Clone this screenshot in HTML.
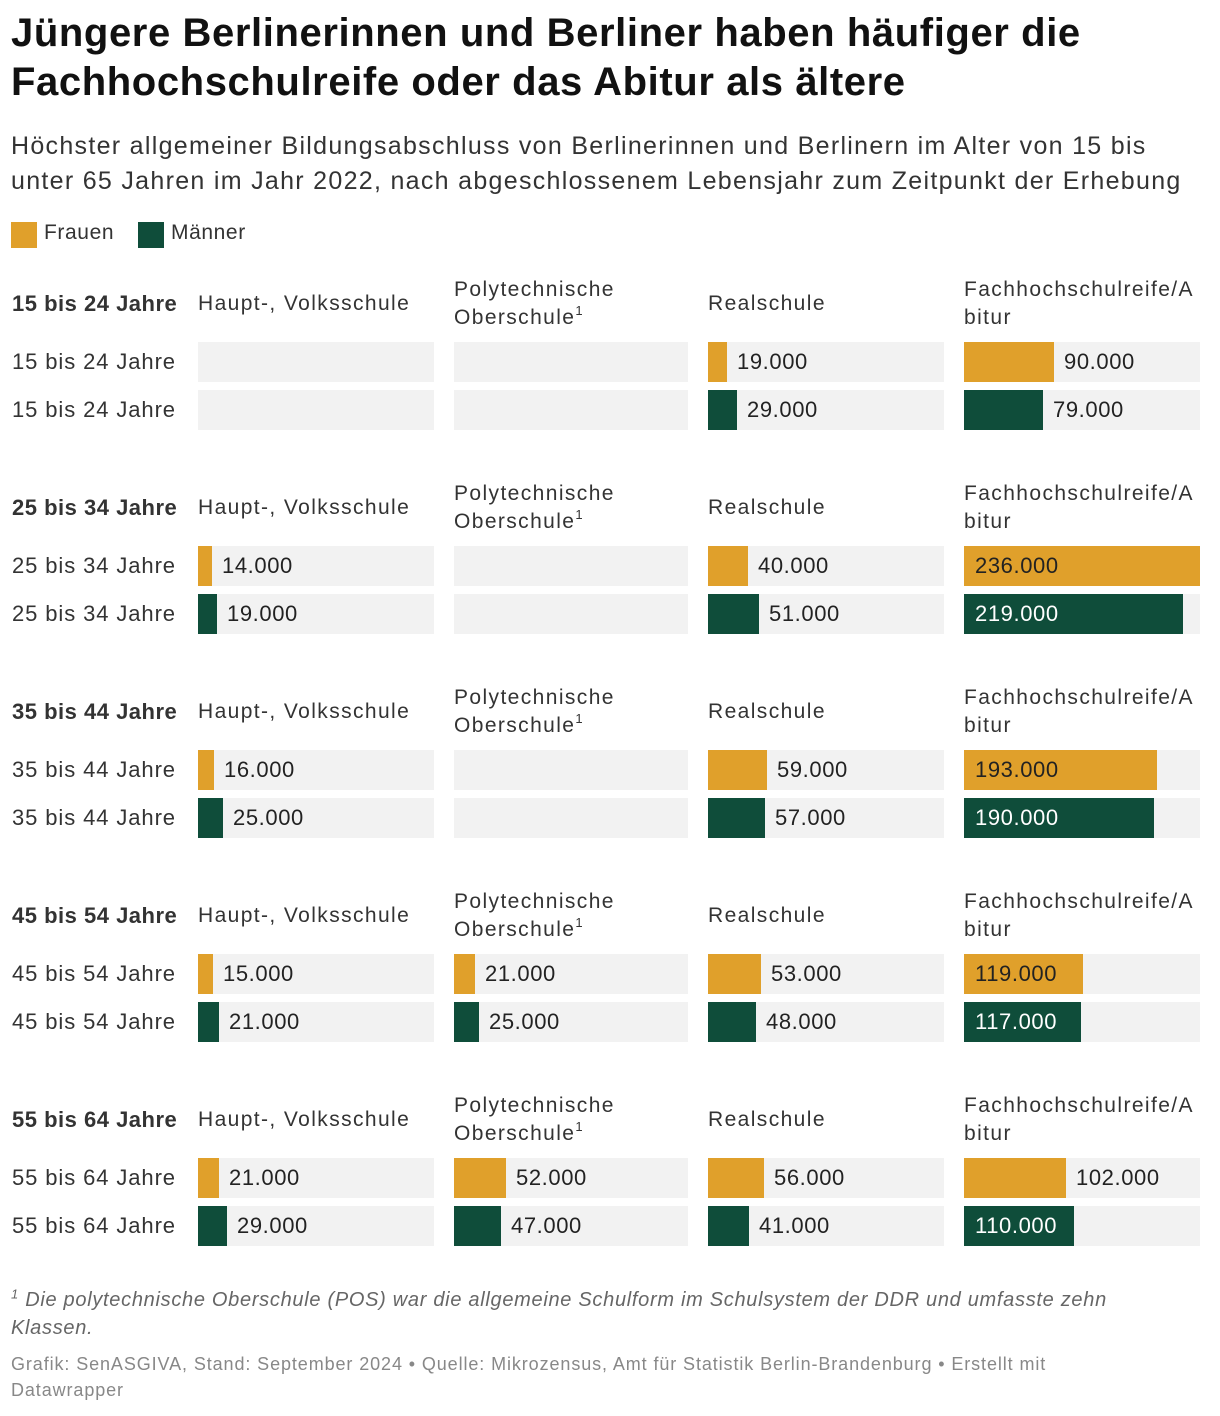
<!DOCTYPE html>
<html><head><meta charset="utf-8">
<style>
body{margin:0;background:#fff;width:1220px;height:1416px;overflow:hidden;font-family:"Liberation Sans",sans-serif;color:#222;position:relative}
.abs{position:absolute;white-space:nowrap}
h1{position:absolute;left:11px;top:9px;margin:0;font-size:40px;line-height:49px;font-weight:bold;color:#111;letter-spacing:0.6px}
.sub{position:absolute;left:11px;top:129px;font-size:25px;line-height:35px;color:#333;letter-spacing:1.3px}
.leg{font-size:21px;color:#333;letter-spacing:0.6px}
.sw{position:absolute;width:26px;height:26px}
.hd{font-size:21px;line-height:28px;color:#333;letter-spacing:1.4px}
.hd sup{font-size:13px;line-height:0;vertical-align:9px}
.rl{font-size:22px;color:#333;letter-spacing:0.9px}
.bg{position:absolute;background:#f2f2f2;height:40px}
.bar{position:absolute;height:40px}
.val{position:absolute;font-size:22px;line-height:40px;letter-spacing:0.6px}
</style></head><body>
<h1>Jüngere Berlinerinnen und Berliner haben häufiger die<br>Fachhochschulreife oder das Abitur als ältere</h1>
<div class="sub">Höchster allgemeiner Bildungsabschluss von Berlinerinnen und Berlinern im Alter von 15 bis<br>unter 65 Jahren im Jahr 2022, nach abgeschlossenem Lebensjahr zum Zeitpunkt der Erhebung</div>
<div class="sw" style="left:11px;top:222px;background:#e0a02b"></div>
<div class="abs leg" style="left:44px;top:221px">Frauen</div>
<div class="sw" style="left:138px;top:222px;background:#0f4d3a"></div>
<div class="abs leg" style="left:171px;top:221px">Männer</div>
<div id="chart"></div>
<div class="abs" style="left:11px;top:1286px;font-size:20px;line-height:28px;font-style:italic;color:#666;letter-spacing:0.7px"><sup style="font-size:13px;line-height:0">1</sup> Die polytechnische Oberschule (POS) war die allgemeine Schulform im Schulsystem der DDR und umfasste zehn<br>Klassen.</div>
<div class="abs" style="left:11px;top:1351px;font-size:18px;line-height:26px;color:#888;letter-spacing:0.9px">Grafik: SenASGIVA, Stand: September 2024 • Quelle: Mikrozensus, Amt für Statistik Berlin-Brandenburg • Erstellt mit<br>Datawrapper</div>
<script>
const ageGroups=["15 bis 24 Jahre","25 bis 34 Jahre","35 bis 44 Jahre","45 bis 54 Jahre","55 bis 64 Jahre"];
const columns=["Haupt-, Volksschule","Polytechnische<br>Oberschule<sup>1</sup>","Realschule","Fachhochschulreife/A<br>bitur"];
const frauen=[[null,null,19000,90000],[14000,null,40000,236000],[16000,null,59000,193000],[15000,21000,53000,119000],[21000,52000,56000,102000]];
const maenner=[[null,null,29000,79000],[19000,null,51000,219000],[25000,null,57000,190000],[21000,25000,48000,117000],[29000,47000,41000,110000]];
const colX=[198,454,708,964],colW=[236,234,236,236];
const maxV=236000;
const xs=v=>v/maxV*236;
const fmt=v=>v.toLocaleString('de-DE');
const C=document.getElementById('chart');
function mk(cls,st,txt){const d=document.createElement('div');d.className=cls;d.style.cssText=st;if(txt!==undefined)d.innerHTML=txt;C.appendChild(d);return d;}
ageGroups.forEach((g,gi)=>{
 const y0=290+gi*204;
 let e=mk('abs rl',`left:12px;top:${y0}px;font-weight:bold;line-height:28px;letter-spacing:0.5px`,g);
 
 
 columns.forEach((c,ci)=>{
  const two=c.indexOf('<br>')>=0;
  e=mk('abs hd',`left:${colX[ci]}px;top:${two?y0-14:y0}px`,c);
  
  
 });
 [[frauen,'#e0a02b','#222'],[maenner,'#0f4d3a','#fff']].forEach(([ser,col,inC],si)=>{
  const y=342+gi*204+si*48;
  e=mk('abs rl',`left:12px;top:${y}px;line-height:40px`,g);
  
  
  ser[gi].forEach((v,ci)=>{
   e=mk('bg',`left:${colX[ci]}px;top:${y}px;width:${colW[ci]}px`);
   
   
   if(v==null)return;
   const w=xs(v);
   e=mk('bar',`left:${colX[ci]}px;top:${y}px;width:${w}px;background:${col}`);
   
   
   const inside=w>=105;
   e=mk('val',`left:${inside?colX[ci]+11:colX[ci]+w+10}px;top:${y}px;color:${inside?inC:'#222'}`,fmt(v));
   
   
  });
 });
});
</script>
</body></html>
